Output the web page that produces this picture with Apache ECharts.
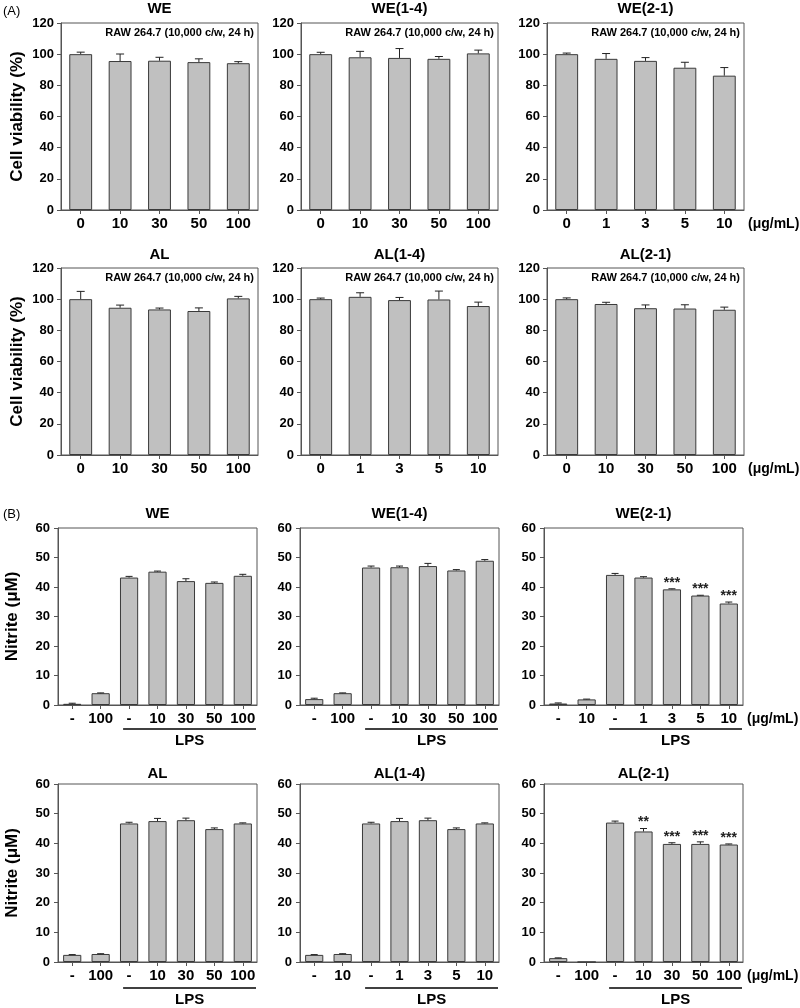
<!DOCTYPE html>
<html><head><meta charset="utf-8">
<script src="https://cdn.jsdelivr.net/npm/echarts@6/dist/echarts.min.js"></script>
<style>html,body{margin:0;padding:0;background:#fff}#c{width:800px;height:1008px}</style>
</head><body><div id="c"></div>
<script>
// ---------- DATA ----------
// (A) Cell viability (%)
const viabCats_WE   = ['0','10','30','50','100'];
const viabVals_WE   = [100, 95.6, 95.8, 94.9, 94.2];
const viabErr_WE    = [1.3, 4.5, 2.2, 2.1, 1.0];

const viabCats_WE14 = ['0','10','30','50','100'];
const viabVals_WE14 = [100, 98, 97.6, 97, 100.5];
const viabErr_WE14  = [1.2, 3.8, 6, 1.5, 2.1];

const viabCats_WE21 = ['0','1','3','5','10'];
const viabVals_WE21 = [100, 97, 95.7, 91.3, 86.2];
const viabErr_WE21  = [0.7, 3.4, 2.1, 3.5, 5.2];

const viabCats_AL   = ['0','10','30','50','100'];
const viabVals_AL   = [100, 94.5, 93.4, 92.4, 100.5];
const viabErr_AL    = [5, 1.7, 0.9, 2, 1.3];

const viabCats_AL14 = ['0','1','3','5','10'];
const viabVals_AL14 = [100, 101.5, 99.4, 99.8, 95.6];
const viabErr_AL14  = [0.7, 2.6, 1.7, 5.4, 2.5];

const viabCats_AL21 = ['0','10','30','50','100'];
const viabVals_AL21 = [100, 96.9, 94.2, 94, 93.2];
const viabErr_AL21  = [0.8, 1.1, 2.1, 2.4, 1.7];

// (B) Nitrite (uM)
const nitCats_WE   = ['-','100','-','10','30','50','100'];
const nitVals_WE   = [0.4, 4.0, 43.2, 45.2, 42.0, 41.4, 43.8];
const nitErr_WE    = [0.2, 0.1, 0.4, 0.2, 0.8, 0.3, 0.5];
const nitStars_WE  = ['','','','','','',''];

const nitCats_WE14 = ['-','100','-','10','30','50','100'];
const nitVals_WE14 = [2.0, 4.0, 46.6, 46.7, 47.1, 45.6, 48.9];
const nitErr_WE14  = [0.3, 0.1, 0.5, 0.4, 0.9, 0.3, 0.4];
const nitStars_WE14 = ['','','','','','',''];

const nitCats_WE21 = ['-','10','-','1','3','5','10'];
const nitVals_WE21 = [0.5, 1.9, 44.1, 43.2, 39.2, 37.1, 34.4];
const nitErr_WE21  = [0.2, 0.1, 0.5, 0.3, 0.2, 0.1, 0.5];
const nitStars_WE21 = ['','','','','***','***','***'];

const nitCats_AL   = ['-','100','-','10','30','50','100'];
const nitVals_AL   = [2.4, 2.7, 46.7, 47.5, 47.8, 44.8, 46.7];
const nitErr_AL    = [0.1, 0.1, 0.4, 0.9, 0.7, 0.4, 0.2];
const nitStars_AL  = ['','','','','','',''];

const nitCats_AL14 = ['-','10','-','1','3','5','10'];
const nitVals_AL14 = [2.4, 2.7, 46.7, 47.5, 47.8, 44.8, 46.7];
const nitErr_AL14  = [0.1, 0.1, 0.4, 0.9, 0.7, 0.4, 0.2];
const nitStars_AL14 = ['','','','','','',''];

const nitCats_AL21 = ['-','100','-','10','30','50','100'];
const nitVals_AL21 = [1.3, 0, 47.0, 44.0, 39.8, 39.8, 39.6];
const nitErr_AL21  = [0.1, 0, 0.5, 1.0, 0.4, 0.7, 0.2];
const nitStars_AL21 = ['','','','**','***','***','***'];

const viabTicks = {min: 0, max: 120, interval: 20};
const nitTicks  = {min: 0, max: 60, interval: 10};

// ---------- LAYOUT ----------
const FONT = '"Liberation Sans", Arial, sans-serif';
const colA = [61, 301, 547], wA = 197;
const colB = [58, 300, 544], wB = 199;
const rows = [
  {top: 23,  h: 187, titleY: 9,   kind: 'A'},
  {top: 268, h: 187, titleY: 255, kind: 'A'},
  {top: 528, h: 177, titleY: 514, kind: 'B', lpsY: 729, lpsLabelY: 741},
  {top: 784, h: 178, titleY: 774, kind: 'B', lpsY: 988, lpsLabelY: 1000}
];

const panels = [
  {r:0,c:0,title:'WE',     cats:viabCats_WE,   vals:viabVals_WE,   errs:viabErr_WE},
  {r:0,c:1,title:'WE(1-4)',cats:viabCats_WE14, vals:viabVals_WE14, errs:viabErr_WE14},
  {r:0,c:2,title:'WE(2-1)',cats:viabCats_WE21, vals:viabVals_WE21, errs:viabErr_WE21},
  {r:1,c:0,title:'AL',     cats:viabCats_AL,   vals:viabVals_AL,   errs:viabErr_AL},
  {r:1,c:1,title:'AL(1-4)',cats:viabCats_AL14, vals:viabVals_AL14, errs:viabErr_AL14},
  {r:1,c:2,title:'AL(2-1)',cats:viabCats_AL21, vals:viabVals_AL21, errs:viabErr_AL21},
  {r:2,c:0,title:'WE',     cats:nitCats_WE,   vals:nitVals_WE,   errs:nitErr_WE,   stars:nitStars_WE},
  {r:2,c:1,title:'WE(1-4)',cats:nitCats_WE14, vals:nitVals_WE14, errs:nitErr_WE14, stars:nitStars_WE14},
  {r:2,c:2,title:'WE(2-1)',cats:nitCats_WE21, vals:nitVals_WE21, errs:nitErr_WE21, stars:nitStars_WE21},
  {r:3,c:0,title:'AL',     cats:nitCats_AL,   vals:nitVals_AL,   errs:nitErr_AL,   stars:nitStars_AL},
  {r:3,c:1,title:'AL(1-4)',cats:nitCats_AL14, vals:nitVals_AL14, errs:nitErr_AL14, stars:nitStars_AL14},
  {r:3,c:2,title:'AL(2-1)',cats:nitCats_AL21, vals:nitVals_AL21, errs:nitErr_AL21, stars:nitStars_AL21}
];

function makeErr(stars, cap) {
  return function (params, api) {
    const idx = params.dataIndex;
    const x = api.value(0), v = api.value(1), e = api.value(2);
    const base = api.coord([x, v]);
    const top = api.coord([x, v + e]);
    const ch = [];
    if (e > 0) {
      ch.push({type:'line', shape:{x1:base[0],y1:base[1],x2:top[0],y2:top[1]}, style:{stroke:'#222',lineWidth:1}});
      ch.push({type:'line', shape:{x1:top[0]-cap,y1:top[1],x2:top[0]+cap,y2:top[1]}, style:{stroke:'#222',lineWidth:1}});
    }
    if (stars && stars[idx]) {
      ch.push({type:'text', x: top[0], y: top[1]-6,
        style:{text: stars[idx], align:'center', verticalAlign:'middle', font:'bold 14px ' + FONT, fill:'#222'}});
    }
    return {type:'group', children: ch};
  };
}

const option = {
  animation: false,
  backgroundColor: '#fff',
  grid: [], xAxis: [], yAxis: [], series: []
};

panels.forEach((p, k) => {
  const row = rows[p.r];
  const isA = row.kind === 'A';
  const left = isA ? colA[p.c] : colB[p.c];
  const w = isA ? wA : wB;
  p.left = left; p.w = w; p.row = row;
  option.grid.push({left: left, top: row.top, width: w, height: row.h,
    show: true, borderColor: '#555', borderWidth: 1, containLabel: false});
  option.xAxis.push({type: 'category', gridIndex: k, data: p.cats,
    axisLine: {lineStyle: {color: '#555', width: 1}},
    axisTick: {show: true, alignWithLabel: true, length: 4, lineStyle: {color: '#555'}},
    axisLabel: {interval: 0, margin: 6, color: '#000', fontWeight: 'bold', fontSize: 15, fontFamily: FONT,
      formatter: (v, i) => p.cats[i]},
    splitLine: {show: false}});
  const t = isA ? viabTicks : nitTicks;
  option.yAxis.push({type: 'value', gridIndex: k, min: t.min, max: t.max, interval: t.interval,
    name: p.c === 0 ? (isA ? 'Cell viability (%)' : 'Nitrite (\u03BCM)') : '',
    nameLocation: 'middle', nameRotate: 90, nameGap: isA ? 35 : 37,
    nameTextStyle: {fontWeight: 'bold', fontSize: 17, color: '#000', fontFamily: FONT},
    axisLine: {show: true, lineStyle: {color: '#555', width: 1}},
    axisTick: {show: true, length: 4, lineStyle: {color: '#555'}},
    axisLabel: {margin: isA ? 7 : 8, color: '#000', fontWeight: 'bold', fontSize: 13, fontFamily: FONT},
    splitLine: {show: false}});
  option.series.push({type: 'bar', xAxisIndex: k, yAxisIndex: k, data: p.vals,
    barWidth: isA ? '58%' : '64%',
    itemStyle: {color: '#c0c0c0', borderColor: '#3a3a3a', borderWidth: 1}, silent: true});
  option.series.push({type: 'custom', xAxisIndex: k, yAxisIndex: k,
    data: p.vals.map((v, i) => [i, v, p.errs[i]]),
    encode: {x: 0, y: 1},
    renderItem: makeErr(p.stars, isA ? 4 : 3.5), silent: true, z: 5});
});

const chart = echarts.init(document.getElementById('c'), null, {renderer: 'canvas'});
chart.setOption(option);

// ---------- annotations ----------
const g = [];
g.push({type:'text', x: 3, y: 11, style:{text:'(A)', font:'13px ' + FONT, fill:'#000', align:'left', verticalAlign:'middle'}});
g.push({type:'text', x: 3, y: 514, style:{text:'(B)', font:'13px ' + FONT, fill:'#000', align:'left', verticalAlign:'middle'}});
panels.forEach((p, k) => {
  const row = p.row;
  g.push({type:'text', x: p.left + p.w / 2, y: row.titleY,
    style:{text: p.title, font:'bold 15px ' + FONT, fill:'#000', align:'center', verticalAlign:'middle'}});
  if (row.kind === 'A') {
    g.push({type:'text', x: p.left + p.w - 4, y: row.top + 10,
      style:{text:'RAW 264.7 (10,000 c/w, 24 h)', font:'bold 11px ' + FONT, fill:'#000', align:'right', verticalAlign:'middle'}});
  } else {
    const c2 = chart.convertToPixel({xAxisIndex: k}, 2);
    const band = p.w / p.cats.length;
    const x1 = c2 - 0.21 * band, x2 = p.left + p.w - 1;
    g.push({type:'line', shape:{x1: x1, y1: row.lpsY, x2: x2, y2: row.lpsY}, style:{stroke:'#000', lineWidth: 1.5}});
    g.push({type:'text', x: (x1 + x2) / 2, y: row.lpsLabelY,
      style:{text:'LPS', font:'bold 15px ' + FONT, fill:'#000', align:'center', verticalAlign:'middle'}});
  }
  if (p.c === 2) {
    g.push({type:'text', x: p.left + p.w + 4, y: row.top + row.h + 14,
      style:{text:'(\u03BCg/mL)', font:'bold 14px ' + FONT, fill:'#000', align:'left', verticalAlign:'middle'}});
  }
});
chart.setOption({graphic: g});
</script>
</body></html>
